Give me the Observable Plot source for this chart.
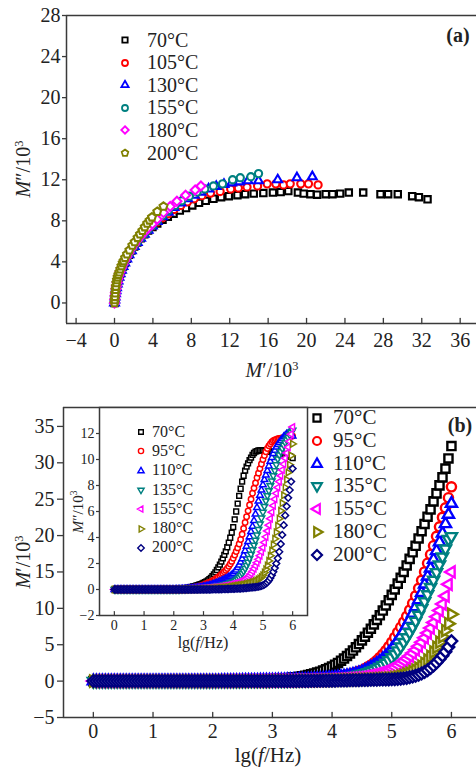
<!DOCTYPE html>
<html><head><meta charset="utf-8">
<script src="https://cdn.jsdelivr.net/npm/d3@7"></script>
<script src="https://cdn.jsdelivr.net/npm/@observablehq/plot@0.6"></script>
<style>
body{margin:0;background:#fff;}
#wrap{position:relative;width:476px;height:772px;overflow:hidden;font-family:"Liberation Serif","Times New Roman",serif;color:#222;}
#wrap sup{font-size:0.62em;vertical-align:0.55em;line-height:0;}
</style></head>
<body><div id="wrap"></div>
<script>
// ---------------- Panel (a): Cole-Cole data ----------------
const labelsA = ["70°C","105°C","130°C","155°C","180°C","200°C"];
const aX70 = [0,0.03,0.06,0.1,0.15,0.2,0.28,0.36,0.46,0.58,0.72,0.88,1.06,1.27,1.5,1.76,2.05,2.37,2.72,3.1,3.5,3.95,4.45,5,5.55,6.15,6.8,7.45,8.1,8.8,9.5,10.3,11.1,11.9,12.8,13.6,14.5,15.5,16.5,17.3,18.1,19.1,19.7,20.4,21.1,22,22.7,23.5,24.4,25.9,27.7,28.5,29.5,31,31.7,32.6];
const aY70 = [0,0.3,0.6,0.9,1.2,1.5,1.85,2.15,2.5,2.85,3.2,3.55,3.9,4.3,4.7,5.1,5.5,5.9,6.3,6.7,7.05,7.4,7.75,8.1,8.4,8.7,9,9.25,9.5,9.75,9.95,10.15,10.3,10.4,10.5,10.6,10.65,10.7,10.75,10.8,10.9,10.75,10.65,10.6,10.55,10.6,10.6,10.65,10.75,10.75,10.6,10.6,10.6,10.4,10.3,10.1];
const aX105 = [0,0.03,0.06,0.1,0.15,0.2,0.28,0.36,0.46,0.58,0.72,0.88,1.06,1.27,1.5,1.76,2.05,2.37,2.72,3.1,3.5,3.95,4.45,5,5.6,6.2,6.9,7.6,8.3,9.1,10,11,12.1,12.9,13.8,14.9,15.9,16.8,17.6,18.3,19.4,20.2,21.2];
const aY105 = [0,0.3,0.6,0.9,1.2,1.5,1.85,2.15,2.5,2.85,3.2,3.55,3.9,4.3,4.7,5.1,5.5,5.9,6.3,6.7,7.1,7.5,7.9,8.3,8.7,9.1,9.5,9.85,10.15,10.45,10.7,10.85,11.1,11.2,11.3,11.4,11.6,11.6,11.5,11.6,11.6,11.6,11.5];
const aX130 = [0,0.03,0.06,0.1,0.15,0.2,0.28,0.36,0.46,0.58,0.72,0.88,1.06,1.27,1.5,1.76,2.05,2.37,2.72,3.1,3.5,3.95,4.45,5,5.6,6.2,6.9,7.6,8.3,9,9.8,10.6,11.4,12.2,13,13.9,15,17,19,20.6];
const aY130 = [0,0.3,0.6,0.9,1.2,1.5,1.85,2.15,2.5,2.85,3.2,3.55,3.9,4.3,4.7,5.1,5.5,5.9,6.3,6.7,7.1,7.5,7.95,8.4,8.85,9.3,9.75,10.15,10.5,10.8,11.1,11.35,11.55,11.7,11.8,11.9,11.9,12,12.2,12.3];
const aX155 = [0,0.03,0.06,0.1,0.15,0.2,0.28,0.36,0.46,0.58,0.72,0.88,1.06,1.27,1.5,1.76,2.05,2.37,2.72,3.1,3.5,3.95,4.45,5,5.6,6.3,7,7.8,8.6,9.4,10.3,11.25,12.3,13.1,14.2,15];
const aY155 = [0,0.3,0.6,0.9,1.2,1.5,1.9,2.2,2.55,2.9,3.25,3.6,3.95,4.35,4.75,5.15,5.55,5.95,6.35,6.75,7.15,7.55,8,8.5,9,9.5,9.95,10.4,10.8,11.1,11.4,11.6,12,12.2,12.3,12.6];
const aX180 = [0,0.03,0.06,0.1,0.15,0.2,0.28,0.36,0.46,0.58,0.72,0.88,1.06,1.27,1.5,1.76,2.05,2.37,2.72,3.1,3.5,3.95,4.45,5.1,5.8,6.5,7.4,8.4,9];
const aY180 = [0,0.35,0.7,1,1.35,1.65,2,2.35,2.7,3.05,3.4,3.75,4.1,4.5,4.9,5.3,5.7,6.1,6.5,6.9,7.3,7.7,8.15,8.8,9.4,9.9,10.5,11,11.4];
const aX200 = [0,0.02,0.04,0.07,0.1,0.14,0.19,0.25,0.32,0.4,0.5,0.6,0.72,0.85,0.95,1.1,1.3,1.55,1.85,2.1,2.4,2.65,2.9,3.15,3.4,3.65,3.9,4.45,5.1];
const aY200 = [0,0.3,0.6,0.95,1.3,1.6,1.95,2.25,2.5,2.75,3,3.3,3.6,3.9,4.1,4.4,4.75,5.15,5.6,5.95,6.35,6.7,7.05,7.4,7.75,8.05,8.35,8.9,9.4];
const xTicksA = [-4,0,4,8,12,16,20,24,28,32,36];
const yTicksA = [0,4,8,12,16,20,24,28];

// ---------------- Panel (b): frequency data ----------------
const labelsB = ["70°C","95°C","110°C","135°C","155°C","180°C","200°C"];
const lgf = [0,0.05,0.1,0.15,0.2,0.25,0.3,0.35,0.4,0.45,0.5,0.55,0.6,0.65,0.7,0.75,0.8,0.85,0.9,0.95,
1,1.05,1.1,1.15,1.2,1.25,1.3,1.35,1.4,1.45,1.5,1.55,1.6,1.65,1.7,1.75,1.8,1.85,1.9,1.95,
2,2.05,2.1,2.15,2.2,2.25,2.3,2.35,2.4,2.45,2.5,2.55,2.6,2.65,2.7,2.75,2.8,2.85,2.9,2.95,3,
3.05,3.1,3.15,3.2,3.25,3.3,3.35,3.4,3.45,3.5,
3.55,3.6,3.65,3.7,3.75,3.8,3.85,3.9,3.95,4,
4.05,4.1,4.15,4.2,4.25,4.3,4.35,4.4,4.45,4.5,
4.55,4.6,4.65,4.7,4.75,4.8,4.85,4.9,4.95,5,
5.05,5.1,5.15,5.2,5.25,5.3,5.35,5.4,5.45,5.5,
5.55,5.6,5.65,5.7,5.75,5.8,5.85,5.9,5.95,6];
// M' (main plot)
const mR70 = [0,0,0,0,0,0,0,0,0,0,0,0,0,0,0,0,0,0,0,0,
0,0,0,0,0,0,0,0,0,0,0,0,0,0,0,0,0,0,0,0,
0,0.04,0.05,0.055,0.06,0.065,0.07,0.075,0.08,0.09,0.1,0.11,0.12,0.13,0.14,0.155,0.17,0.185,0.2,0.22,0.24,
0.27,0.3,0.33,0.36,0.4,0.44,0.49,0.54,0.6,0.67,
0.75,0.84,0.94,1.05,1.17,1.3,1.45,1.62,1.8,2,
2.25,2.5,2.8,3.1,3.45,3.8,4.2,4.65,5.1,5.6,
6.1,6.65,7.2,7.8,8.4,9.05,9.7,10.4,11.1,11.85,
12.6,13.4,14.2,15,15.9,16.8,17.7,18.6,19.6,20.6,
21.6,22.6,23.6,24.7,25.8,26.9,28,29.2,30.6,32.3];
const mR95 = [0,0,0,0,0,0,0,0,0,0,0,0,0,0,0,0,0,0,0,0,
0,0,0,0,0,0,0,0,0,0,0,0,0,0,0,0,0,0,0,0,
0,0.02,0.03,0.035,0.04,0.045,0.05,0.055,0.06,0.065,0.07,0.075,0.08,0.085,0.09,0.095,0.1,0.105,0.11,0.115,0.12,
0.13,0.14,0.15,0.16,0.17,0.18,0.19,0.2,0.22,0.24,
0.26,0.28,0.3,0.32,0.34,0.37,0.4,0.43,0.46,0.5,
0.56,0.62,0.7,0.78,0.87,0.97,1.08,1.2,1.35,1.5,
1.72,1.95,2.2,2.5,2.85,3.25,3.7,4.2,4.75,5.35,
6,6.7,7.4,8.1,8.9,9.75,10.7,11.7,12.75,13.85,
15,16.2,17.4,18.6,19.9,21.2,22.5,23.8,25.2,26.7];
const mR110 = [0,0,0,0,0,0,0,0,0,0,0,0,0,0,0,0,0,0,0,0,
0,0,0,0,0,0,0,0,0,0,0,0,0,0,0,0,0,0,0,0,
0,0.01,0.02,0.025,0.03,0.035,0.04,0.045,0.05,0.055,0.06,0.065,0.07,0.075,0.08,0.085,0.09,0.095,0.1,0.105,0.11,
0.12,0.13,0.14,0.15,0.16,0.17,0.18,0.19,0.2,0.21,
0.22,0.24,0.26,0.28,0.3,0.32,0.35,0.38,0.41,0.45,
0.49,0.54,0.6,0.66,0.73,0.81,0.9,1,1.12,1.25,
1.45,1.65,1.88,2.13,2.4,2.7,3.05,3.45,3.9,4.4,
4.95,5.55,6.2,6.9,7.65,8.45,9.3,10.2,11.15,12.15,
13.3,14.4,15.5,16.7,17.9,19.1,20.3,21.6,22.9,24.4];
const mR135 = [0,0,0,0,0,0,0,0,0,0,0,0,0,0,0,0,0,0,0,0,
0,0,0,0,0,0,0,0,0,0,0,0,0,0,0,0,0,0,0,0,
0,0.01,0.02,0.02,0.02,0.025,0.03,0.03,0.03,0.035,0.04,0.045,0.05,0.05,0.05,0.055,0.06,0.065,0.07,0.075,0.08,
0.08,0.09,0.1,0.1,0.11,0.12,0.13,0.14,0.15,0.16,
0.17,0.18,0.19,0.21,0.23,0.25,0.27,0.29,0.32,0.35,
0.38,0.42,0.46,0.5,0.55,0.61,0.68,0.76,0.85,0.95,
1.07,1.2,1.35,1.52,1.72,1.95,2.2,2.5,2.85,3.25,
3.7,4.2,4.75,5.35,6,6.7,7.45,8.25,9.1,10,
10.95,11.9,12.9,13.9,14.95,16,17.1,18.2,19.5,19.9];
const mR155 = [0,0,0,0,0,0,0,0,0,0,0,0,0,0,0,0,0,0,0,0,
0,0,0,0,0,0,0,0,0,0,0,0,0,0,0,0,0,0,0,0,
0,0,0.01,0.01,0.01,0.015,0.02,0.02,0.02,0.025,0.03,0.03,0.03,0.035,0.04,0.04,0.04,0.045,0.05,0.05,0.05,
0.06,0.06,0.07,0.07,0.08,0.08,0.09,0.09,0.1,0.1,
0.11,0.12,0.13,0.14,0.15,0.16,0.17,0.18,0.2,0.22,
0.24,0.26,0.28,0.3,0.33,0.36,0.39,0.43,0.47,0.52,
0.6,0.68,0.77,0.87,0.98,1.1,1.24,1.4,1.57,1.75,
1.95,2.2,2.48,2.78,3.1,3.45,3.85,4.3,4.8,5.35,
5.95,6.6,7.3,8.05,8.85,9.7,10.6,11.7,13.3,15];
const mR180 = [0,0,0,0,0,0,0,0,0,0,0,0,0,0,0,0,0,0,0,0,
0,0,0,0,0,0,0,0,0,0,0,0,0,0,0,0,0,0,0,0,
0,0,0.01,0.01,0.01,0.01,0.01,0.01,0.01,0.01,0.01,0.01,0.01,0.01,0.01,0.01,0.01,0.01,0.01,0.01,0.01,
0.02,0.02,0.02,0.03,0.03,0.03,0.04,0.04,0.04,0.05,
0.05,0.06,0.06,0.07,0.07,0.08,0.09,0.1,0.11,0.12,
0.12,0.13,0.14,0.15,0.16,0.17,0.18,0.19,0.2,0.22,
0.24,0.26,0.28,0.3,0.32,0.34,0.36,0.38,0.4,0.42,
0.5,0.58,0.68,0.8,0.94,1.1,1.3,1.52,1.78,2.06,
2.45,2.9,3.4,4,4.65,5.35,6.1,6.95,7.9,9.2];
const mR200 = [0,0,0,0,0,0,0,0,0,0,0,0,0,0,0,0,0,0,0,0,
0,0,0,0,0,0,0,0,0,0,0,0,0,0,0,0,0,0,0,0,
0,0,0,0,0,0,0,0,0,0,0,0,0,0,0,0,0,0,0,0,0,
0,0,0,0,0.01,0.01,0.01,0.01,0.02,0.02,
0.02,0.02,0.03,0.03,0.03,0.04,0.04,0.05,0.05,0.06,
0.06,0.07,0.07,0.08,0.09,0.1,0.11,0.12,0.13,0.14,
0.15,0.16,0.17,0.18,0.19,0.2,0.21,0.22,0.23,0.24,
0.26,0.29,0.33,0.38,0.44,0.52,0.62,0.74,0.88,1.05,
1.25,1.5,1.8,2.15,2.55,3,3.5,4.05,4.7,5.5];
// M'' (inset)
const mI70 = [0,0,0,0,0,0,0,0,0,0,0,0,0,0,0,0,0,0,0,0,
0,0,0,0,0,0,0,0,0,0,0,0,0,0,0,0,0,0,0,0,
0,0.015,0.03,0.04,0.05,0.065,0.08,0.095,0.11,0.13,0.15,0.175,0.2,0.23,0.26,0.295,0.33,0.37,0.41,0.455,0.5,
0.56,0.63,0.71,0.8,0.9,1.02,1.16,1.32,1.5,1.7,
1.92,2.15,2.4,2.66,2.94,3.25,3.6,3.98,4.38,4.8,
5.4,6,6.6,7.2,7.75,8.3,8.75,9.15,9.45,9.7,
9.95,10.15,10.35,10.5,10.6,10.65,10.7,10.7,10.7,10.7,
10.7,10.65,10.65,10.6,10.6,10.6,10.55,10.55,10.5,10.5,
10.5,10.45,10.45,10.4,10.4,10.35,10.3,10.25,10.2,10.1];
const mI95 = [0,0,0,0,0,0,0,0,0,0,0,0,0,0,0,0,0,0,0,0,
0,0,0,0,0,0,0,0,0,0,0,0,0,0,0,0,0,0,0,0,
0,0.01,0.02,0.025,0.03,0.04,0.05,0.06,0.07,0.085,0.1,0.115,0.13,0.15,0.17,0.195,0.22,0.25,0.28,0.315,0.35,
0.4,0.45,0.5,0.55,0.6,0.66,0.72,0.8,0.88,0.96,
1.05,1.15,1.25,1.36,1.48,1.62,1.78,1.96,2.16,2.4,
2.65,2.92,3.2,3.5,3.85,4.25,4.7,5.15,5.6,6.05,
6.5,6.95,7.4,7.8,8.2,8.6,8.95,9.3,9.65,10,
10.3,10.6,10.85,11.05,11.2,11.35,11.45,11.5,11.55,11.6,
11.62,11.64,11.66,11.68,11.7,11.72,11.74,11.76,11.78,11.8];
const mI110 = [0,0,0,0,0,0,0,0,0,0,0,0,0,0,0,0,0,0,0,0,
0,0,0,0,0,0,0,0,0,0,0,0,0,0,0,0,0,0,0,0,
0,0.005,0.01,0.015,0.02,0.025,0.03,0.035,0.04,0.05,0.06,0.07,0.08,0.09,0.1,0.115,0.13,0.145,0.16,0.18,0.2,
0.22,0.25,0.28,0.31,0.34,0.38,0.42,0.46,0.5,0.55,
0.6,0.65,0.7,0.76,0.82,0.88,0.95,1.02,1.1,1.2,
1.35,1.5,1.68,1.88,2.1,2.35,2.65,2.98,3.32,3.68,
4.05,4.45,4.85,5.3,5.8,6.3,6.8,7.25,7.65,8.05,
8.45,8.8,9.15,9.5,9.85,10.15,10.45,10.7,10.95,11.15,
11.3,11.45,11.6,11.75,11.85,11.95,12,12,11.9,11.8];
const mI135 = [0,0,0,0,0,0,0,0,0,0,0,0,0,0,0,0,0,0,0,0,
0,0,0,0,0,0,0,0,0,0,0,0,0,0,0,0,0,0,0,0,
0,0.005,0.01,0.01,0.01,0.015,0.02,0.025,0.03,0.035,0.04,0.045,0.05,0.055,0.06,0.065,0.07,0.08,0.09,0.1,0.11,
0.12,0.13,0.14,0.16,0.18,0.2,0.22,0.24,0.26,0.28,
0.3,0.32,0.34,0.37,0.4,0.43,0.46,0.5,0.54,0.58,
0.64,0.72,0.82,0.94,1.08,1.24,1.42,1.62,1.85,2.1,
2.4,2.72,3.06,3.42,3.8,4.2,4.62,5.05,5.5,5.95,
6.4,6.82,7.22,7.6,7.98,8.35,8.75,9.15,9.6,10.05,
10.35,10.6,10.85,11.1,11.3,11.5,11.7,11.9,12.1,12.25];
const mI155 = [0,0,0,0,0,0,0,0,0,0,0,0,0,0,0,0,0,0,0,0,
0,0,0,0,0,0,0,0,0,0,0,0,0,0,0,0,0,0,0,0,
0,0,0,0.005,0.01,0.01,0.01,0.015,0.02,0.02,0.02,0.025,0.03,0.035,0.04,0.045,0.05,0.055,0.06,0.065,0.07,
0.08,0.09,0.1,0.11,0.12,0.13,0.14,0.15,0.16,0.18,
0.2,0.22,0.24,0.26,0.28,0.3,0.33,0.36,0.39,0.42,
0.46,0.5,0.54,0.58,0.63,0.68,0.74,0.8,0.88,0.96,
1.08,1.22,1.4,1.6,1.82,2.06,2.32,2.6,2.9,3.22,
3.62,4.05,4.5,4.95,5.45,5.95,6.45,6.95,7.4,7.85,
8.3,8.75,9.2,9.65,10.1,10.5,10.95,11.4,11.95,12.5];
const mI180 = [0,0,0,0,0,0,0,0,0,0,0,0,0,0,0,0,0,0,0,0,
0,0,0,0,0,0,0,0,0,0,0,0,0,0,0,0,0,0,0,0,
0,0,0,0,0,0.005,0.01,0.01,0.01,0.01,0.01,0.015,0.02,0.02,0.02,0.025,0.03,0.03,0.03,0.035,0.04,
0.04,0.05,0.05,0.06,0.06,0.07,0.08,0.08,0.09,0.1,
0.11,0.12,0.13,0.14,0.15,0.16,0.17,0.18,0.2,0.22,
0.24,0.26,0.28,0.3,0.32,0.34,0.36,0.38,0.41,0.44,
0.47,0.5,0.54,0.58,0.63,0.69,0.76,0.85,0.96,1.1,
1.3,1.55,1.85,2.2,2.6,3,3.45,3.9,4.4,4.9,
5.45,6.05,6.65,7.25,7.85,8.45,9,9.6,10.3,11.2];
const mI200 = [0,0,0,0,0,0,0,0,0,0,0,0,0,0,0,0,0,0,0,0,
0,0,0,0,0,0,0,0,0,0,0,0,0,0,0,0,0,0,0,0,
0,0,0,0,0,0,0,0,0,0,0,0,0,0,0,0,0,0,0,0,0,
0,0,0,0,0,0.01,0.01,0.01,0.01,0.02,
0.02,0.02,0.03,0.03,0.03,0.04,0.04,0.05,0.05,0.06,
0.06,0.07,0.07,0.08,0.08,0.09,0.1,0.11,0.12,0.13,
0.14,0.15,0.16,0.17,0.18,0.2,0.22,0.25,0.28,0.32,
0.38,0.46,0.56,0.7,0.88,1.1,1.36,1.66,2,2.4,
2.9,3.5,4.2,4.95,5.7,6.4,7.05,7.65,8.3,9.3];
const xTicksB = [0,1,2,3,4,5,6];
const yTicksB = [-5,0,5,10,15,20,25,30,35];
const yTicksI = [-2,0,2,4,6,8,10,12];

// ---------------- styling ----------------
const COL = {k:"#000000", r:"#ff0000", b:"#0000ff", t:"#008080", m:"#ff00ff", o:"#808000", n:"#000080"};
const AX = "#3a3a3a";
const FONT = "'Liberation Serif','Times New Roman',serif";
function polySym(n, startDeg, k) {
  return {draw(ctx, size) {
    const R = Math.sqrt(size / (n / 2 * Math.sin(2 * Math.PI / n))) * k;
    for (let i = 0; i < n; i++) {
      const a = (startDeg + 360 * i / n) * Math.PI / 180;
      const px = R * Math.cos(a), py = R * Math.sin(a);
      if (i) ctx.lineTo(px, py); else ctx.moveTo(px, py);
    }
    ctx.closePath();
  }};
}
const SYM = {
  square: d3.symbolSquare, circle: d3.symbolCircle,
  up: polySym(3, -90, 0.9), down: polySym(3, 90, 0.9), left: polySym(3, 180, 0.9), right: polySym(3, 0, 0.9),
  diamond: polySym(4, -90, 1), pent: polySym(5, -90, 1)
};
const fmt = d => d < 0 ? "\u2212" + (-d) : String(d);
const tickShape = {draw(ctx, l) { ctx.moveTo(0, 0); ctx.lineTo(0, -l); }};

const wrap = document.getElementById("wrap");
function place(node, left, top) {
  node.style.position = "absolute"; node.style.left = left + "px"; node.style.top = top + "px";
  wrap.appendChild(node);
}
function label(html, cx, cy, fs, opts = {}) {
  const d = document.createElement("div");
  d.innerHTML = html;
  Object.assign(d.style, {position: "absolute", left: cx + "px", top: cy + "px", fontSize: fs + "px", lineHeight: "1",
    whiteSpace: "nowrap", color: "#222", fontWeight: opts.bold ? "bold" : "normal",
    transform: "translate(-50%,-50%)" + (opts.rotate ? " rotate(-90deg)" : "")});
  wrap.appendChild(d);
}
function legend(items, {mx, y0, dy, tx, fs, r, sw}) {
  items.forEach((it, i) => {
    const cy = y0 + i * dy;
    const svg = d3.create("svg").attr("width", 24).attr("height", 24);
    svg.append("path").attr("transform", "translate(12,12)")
      .attr("d", d3.symbol(it.sym, Math.PI * r * r)())
      .attr("fill", "white").attr("stroke", it.color).attr("stroke-width", sw);
    place(svg.node(), mx - 12, cy - 12);
    const t = document.createElement("div");
    t.textContent = it.label;
    Object.assign(t.style, {fontSize: fs + "px", lineHeight: "1", whiteSpace: "nowrap", color: "#222"});
    place(t, tx, cy - fs * 0.52);
  });
}

// ---------------- Panel (a) ----------------
const seriesA = [
  {label: labelsA[0], color: COL.k, sym: SYM.square, xs: aX70, ys: aY70},
  {label: labelsA[1], color: COL.r, sym: SYM.circle, xs: aX105, ys: aY105},
  {label: labelsA[2], color: COL.b, sym: SYM.up, xs: aX130, ys: aY130},
  {label: labelsA[3], color: COL.t, sym: SYM.circle, xs: aX155, ys: aY155},
  {label: labelsA[4], color: COL.m, sym: SYM.diamond, xs: aX180, ys: aY180},
  {label: labelsA[5], color: COL.o, sym: SYM.pent, xs: aX200, ys: aY200}
];
const xDomA = [-5, 37.7], yDomA = [-2, 28];
const plotA = Plot.plot({
  width: 476, height: 360, marginLeft: 66, marginRight: 0, marginTop: 15, marginBottom: 37,
  x: {domain: xDomA}, y: {domain: yDomA},
  style: {fontFamily: FONT, fontSize: "20px", color: "#222", background: "transparent", overflow: "visible"},
  marks: [
    Plot.ruleY([yDomA[1]], {stroke: AX, strokeWidth: 1.5}),
    Plot.ruleY([yDomA[0]], {stroke: AX, strokeWidth: 1.5}),
    Plot.ruleX([xDomA[0]], {stroke: AX, strokeWidth: 1.5}),
    Plot.axisY({ticks: yTicksA, tickSize: 4, tickPadding: 2, tickFormat: fmt, label: null, fontSize: 20, stroke: AX, strokeWidth: 1.3}),
    Plot.axisX({ticks: xTicksA, tickSize: 0, tickPadding: 9, tickFormat: fmt, label: null, fontSize: 20}),
    Plot.vector(xTicksA, {x: d => d, y: yDomA[0], length: 5, rotate: 0, anchor: "start", shape: tickShape, stroke: AX, strokeWidth: 1.3}),
    ...seriesA.map(s => Plot.dot(s.xs.map((x, i) => ({x, y: s.ys[i]})),
      {x: "x", y: "y", symbol: s.sym, r: 3.6, stroke: s.color, fill: "white", strokeWidth: 2.1}))
  ]
});
place(plotA, 0, 0);

// ---------------- Panel (b) main ----------------
const seriesB = [
  {label: labelsB[0], color: COL.k, sym: SYM.square, main: mR70, ins: mI70},
  {label: labelsB[1], color: COL.r, sym: SYM.circle, main: mR95, ins: mI95},
  {label: labelsB[2], color: COL.b, sym: SYM.up, main: mR110, ins: mI110},
  {label: labelsB[3], color: COL.t, sym: SYM.down, main: mR135, ins: mI135},
  {label: labelsB[4], color: COL.m, sym: SYM.left, main: mR155, ins: mI155},
  {label: labelsB[5], color: COL.o, sym: SYM.right, main: mR180, ins: mI180},
  {label: labelsB[6], color: COL.n, sym: SYM.diamond, main: mR200, ins: mI200}
];
const xDomB = [-0.5, 6.42], yDomB = [-5, 37.6];
const plotB = Plot.plot({
  width: 476, height: 412, marginLeft: 63, marginRight: 0, marginTop: 47, marginBottom: 55,
  x: {domain: xDomB}, y: {domain: yDomB},
  style: {fontFamily: FONT, fontSize: "20px", color: "#222", background: "transparent", overflow: "visible"},
  marks: [
    Plot.ruleY([yDomB[1]], {stroke: AX, strokeWidth: 1.5}),
    Plot.ruleY([yDomB[0]], {stroke: AX, strokeWidth: 1.5}),
    Plot.ruleX([xDomB[0]], {stroke: AX, strokeWidth: 1.5}),
    Plot.axisY({ticks: yTicksB, tickSize: 6, tickPadding: 3, tickFormat: fmt, label: null, fontSize: 20, stroke: AX, strokeWidth: 1.3}),
    Plot.axisX({ticks: xTicksB, tickSize: 0, tickPadding: 6, tickFormat: fmt, label: null, fontSize: 20}),
    Plot.vector(xTicksB, {x: d => d, y: yDomB[0], length: 5, rotate: 0, anchor: "start", shape: tickShape, stroke: AX, strokeWidth: 1.3}),
    ...seriesB.map(s => Plot.dot(lgf.map((f, i) => ({f, v: s.main[i]})),
      {x: "f", y: "v", symbol: s.sym, r: 4.6, stroke: s.color, fill: "white", strokeWidth: 2.4}))
  ]
});
place(plotB, 0, 360);

// ---------------- Panel (b) inset ----------------
const xDomI = [-0.5, 6.5], yDomI = [-2, 14];
const plotI = Plot.plot({
  width: 260, height: 240, marginLeft: 39, marginRight: 13, marginTop: 7, marginBottom: 25,
  x: {domain: xDomI}, y: {domain: yDomI},
  style: {fontFamily: FONT, fontSize: "14px", color: "#222", background: "transparent", overflow: "visible"},
  marks: [
    Plot.frame({fill: "white", stroke: AX, strokeWidth: 1.5}),
    Plot.axisY({ticks: yTicksI, tickSize: 3, tickPadding: 2, tickFormat: fmt, label: null, fontSize: 14, stroke: AX, strokeWidth: 1.2}),
    Plot.axisX({ticks: xTicksB, tickSize: 0, tickPadding: 5, tickFormat: fmt, label: null, fontSize: 14}),
    Plot.vector(xTicksB, {x: d => d, y: yDomI[0], length: 4, rotate: 0, anchor: "start", shape: tickShape, stroke: AX, strokeWidth: 1.2}),
    ...seriesB.map(s => Plot.dot(lgf.map((f, i) => ({f, v: s.ins[i]})),
      {x: "f", y: "v", symbol: s.sym, r: 2.7, stroke: s.color, fill: "white", strokeWidth: 1.5}))
  ]
});
place(plotI, 60, 400);

// ---------------- texts & legends ----------------
label("<i>M</i>\u2032/10<sup>3</sup>", 272, 370, 20);
label("<i>M</i>\u2033/10<sup>3</sup>", 23, 169, 20, {rotate: true});
label("lg(<i>f</i>/Hz)", 268, 755, 21);
label("<i>M</i>\u2032/10<sup>3</sup>", 23, 562, 20, {rotate: true});
label("lg(<i>f</i>/Hz)", 203, 643, 16);
label("<i>M</i>\u2033/10<sup>3</sup>", 78, 512, 15, {rotate: true});
label("(a)", 458, 35, 20, {bold: true});
label("(b)", 460, 425, 20, {bold: true});

legend(seriesA, {mx: 125, y0: 40, dy: 22.6, tx: 147, fs: 20, r: 3, sw: 1.8});
legend(seriesB, {mx: 317, y0: 418, dy: 22.8, tx: 333, fs: 21, r: 4, sw: 2.2});
legend(seriesB, {mx: 141, y0: 432, dy: 19.3, tx: 152, fs: 16, r: 2.6, sw: 1.4});
</script>
</body></html>
